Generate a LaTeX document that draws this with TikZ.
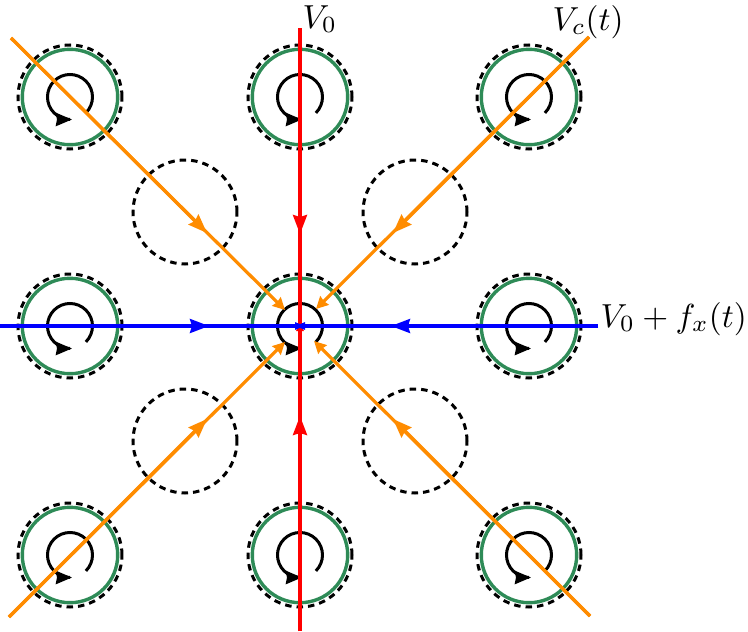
\documentclass[tikz,border=0pt]{standalone}
\usetikzlibrary{arrows.meta}
\definecolor{sgreen}{RGB}{46,139,87}
\definecolor{dorange}{RGB}{255,140,0}
\tikzset{
  dashring/.style={circle,draw=black,line width=3pt,dash pattern=on 6.5pt off 5pt,inner sep=0pt,minimum size=104pt},
  greenring/.style={circle,draw=sgreen,line width=3.4pt,inner sep=0pt,minimum size=95.4pt},
  spin/.style={draw=black,line width=3pt,-{Stealth[length=16pt,width=13pt,inset=1pt]}},
  bigtip/.style={-{Stealth[length=19pt,width=14pt,inset=2pt]}},
  smalltip/.style={-{Stealth[length=12pt,width=12pt,inset=1pt]}},
  centretip/.style={-{Stealth[length=10pt,width=7pt,inset=0pt]}},
  orangeline/.style={draw=dorange,line width=3.2pt},
  redline/.style={draw=red,line width=3.2pt},
  blueline/.style={draw=blue,line width=3.2pt},
  lab/.style={inner sep=0pt,scale=3.33}
}
\begin{document}
\begin{tikzpicture}[x=1pt,y=-1pt]
\useasboundingbox (0,0) rectangle (748,632);
\fill[white] (0,0) rectangle (748,632);
% empty sites
\foreach \n/\x/\y in {ea/185/212,eb/415/212,ec/185/441,ed/415/441}
  \node[dashring] (\n) at (\x,\y) {};
% occupied sites
\foreach \n/\x/\y in {sa/70/97,sb/300/97,sc/529/97,sd/70/326,se/529/326,sf/70/555,sg/300/555,sh/529/555,c/300/326}{
  \node[dashring] (d\n) at (\x,\y) {};
  \node[greenring] (\n) at (\x,\y) {};
  \draw[spin] (\x+15.9,\y+15.9) arc[start angle=45,end angle=-270,radius=22.5] -- ++(2,0);
}
% free ends
\coordinate (tl) at (11,38);
\coordinate (tr) at (589,37);
\coordinate (bl) at (9,617);
\coordinate (br) at (590,616);
\coordinate (top) at (300,28);
\coordinate (bot) at (300,631);
\coordinate (lft) at (0,326);
\coordinate (rgt) at (598,326);
% midpoints
\coordinate (mtl) at (207,233);
\coordinate (mtr) at (393,233);
\coordinate (mbl) at (207,419);
\coordinate (mbr) at (393,419);
\coordinate (mt) at (300,234);
\coordinate (mb) at (300,416);
\coordinate (ml) at (209,326);
\coordinate (mr) at (391,326);
% inner tips
\coordinate (itl) at (285,310);
\coordinate (itr) at (316,309);
\coordinate (ibl) at (285,342);
\coordinate (ibr) at (314,341);
% centre overlap points
\coordinate (cu) at (300,321);
\coordinate (cd) at (300,333);
\coordinate (cl) at (295,326);
\coordinate (cr) at (305,326);
% connectors
\draw[redline,centretip] (top) -- (cd);
\draw[redline,bigtip] (top) -- (mt);
\draw[redline,centretip] (bot) -- (cu);
\draw[redline,bigtip] (bot) -- (mb);
\draw[blueline,centretip] (lft) -- (cr);
\draw[blueline,bigtip] (lft) -- (ml);
\draw[blueline,centretip] (rgt) -- (cl);
\draw[blueline,bigtip] (rgt) -- (mr);
\draw[orangeline,smalltip] (tl) -- (itl);
\draw[orangeline,bigtip] (tl) -- (mtl);
\draw[orangeline,smalltip] (tr) -- (itr);
\draw[orangeline,bigtip] (tr) -- (mtr);
\draw[orangeline,smalltip] (bl) -- (ibl);
\draw[orangeline,bigtip] (bl) -- (mbl);
\draw[orangeline,smalltip] (br) -- (ibr);
\draw[orangeline,bigtip] (br) -- (mbr);
% labels
\node[lab,anchor=base west] (lv) at (302,28) {$V_0$};
\node[lab,anchor=base west] (lc) at (552,30) {$V_c(t)$};
\node[lab,anchor=base west] (lf) at (600,327) {$V_0+f_x(t)$};
\end{tikzpicture}
\end{document}
